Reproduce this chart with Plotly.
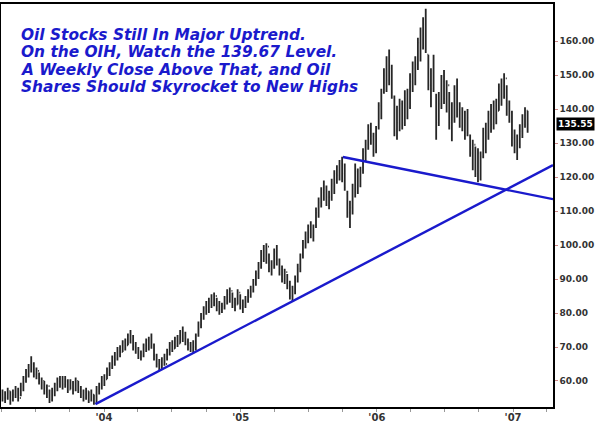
import plotly.graph_objects as go
import pandas as pd

# ---- weekly OHLC data for OIH ----
week_start = "2003-04-04"

lows = [54.0,53.5,54.5,53.0,54.0,55.0,54.0,55.5,57.0,59.5,
        61.0,62.5,61.0,60.5,59.0,57.5,56.0,55.0,53.5,54.0,
        55.5,57.0,58.0,57.5,58.0,56.5,57.5,56.0,57.0,56.5,
        55.0,54.0,54.5,53.5,54.0,53.0,53.2,56.0,57.5,58.5,
        60.5,61.5,63.5,64.5,66.0,67.0,68.5,69.0,70.5,71.0,
        69.0,68.0,66.5,66.0,67.0,68.5,69.0,69.5,66.0,64.0,
        63.0,63.5,64.5,66.0,67.5,68.5,69.5,70.0,71.0,71.5,
        70.5,69.0,68.5,68.0,69.0,73.0,75.5,78.0,79.5,80.0,
        81.5,82.0,80.5,79.5,80.0,81.0,82.5,83.0,81.5,80.5,
        82.5,81.0,80.0,81.5,83.0,84.5,86.0,88.0,90.0,93.0,
        95.0,94.5,92.0,91.0,93.0,94.0,91.0,89.0,88.5,87.0,
        84.0,83.5,85.5,89.0,92.0,96.0,99.0,100.5,102.0,101.0,
        105.0,108.0,111.0,113.0,111.5,110.5,113.0,115.0,118.0,119.0,
        118.5,116.0,108.0,105.0,109.0,114.0,115.0,117.0,121.0,124.5,
        128.0,129.5,126.0,127.0,134.0,137.0,144.5,145.0,147.0,143.0,
        132.0,131.0,133.5,134.0,135.0,137.0,140.0,145.0,147.0,151.5,
        154.0,157.5,156.5,145.5,140.5,145.0,131.0,135.0,140.0,141.5,
        139.0,134.0,130.5,136.0,137.5,134.5,133.5,131.0,132.0,126.0,
        122.0,120.0,118.5,119.0,125.5,127.0,131.0,133.0,134.0,135.5,
        139.5,141.0,143.0,138.0,136.0,129.0,127.0,125.0,128.5,131.5,134.5,133.0]

highs = [57.5,57.0,58.0,57.0,57.5,58.5,58.0,59.5,61.5,63.5,
         65.0,67.3,65.5,64.0,62.5,61.0,60.0,59.0,57.5,58.0,
         59.5,61.0,61.5,61.5,61.5,60.5,60.5,60.0,61.0,60.0,
         58.5,57.5,58.0,57.0,57.5,56.0,58.5,59.5,61.5,62.0,
         64.0,65.5,67.5,68.5,70.0,70.5,72.0,72.5,74.0,75.0,
         73.5,71.5,70.0,69.0,71.0,72.5,73.0,74.0,71.0,68.0,
         66.5,67.0,68.0,69.5,71.5,72.0,73.0,73.5,75.0,76.0,
         74.5,72.5,71.5,72.0,74.0,77.5,80.0,82.0,83.5,84.5,
         85.5,86.0,84.5,83.5,83.0,85.0,87.0,87.5,86.0,84.5,
         87.0,85.5,84.0,85.0,87.0,88.0,90.0,92.5,95.0,98.5,
         100.0,100.5,97.5,95.5,99.0,100.0,96.0,94.0,93.0,91.5,
         89.5,88.0,91.0,94.5,97.5,101.5,104.0,106.0,107.0,106.0,
         111.0,114.0,117.0,119.0,117.5,116.0,119.5,122.0,123.5,125.0,
         126.0,124.0,116.0,113.0,118.0,124.0,122.5,123.0,128.5,131.0,
         135.5,136.0,133.0,135.0,142.0,146.0,152.0,155.5,157.5,153.0,
         144.0,141.0,143.0,142.5,145.5,146.0,150.5,154.0,155.5,161.0,
         164.0,167.0,169.5,156.0,152.0,156.0,144.5,145.0,150.0,151.5,
         148.5,145.0,142.0,147.0,149.0,142.0,140.5,139.5,140.0,132.5,
         131.0,129.0,128.5,127.5,134.5,136.0,139.5,141.5,142.5,143.0,
         147.5,149.0,150.5,147.0,142.5,139.5,134.0,132.5,135.5,138.5,140.5,139.5]

opens = [56.0,55.0,55.0,57.0,54.5,56.0,57.5,55.0,58.0,60.5,
         62.0,63.5,65.0,62.0,63.0,60.0,60.0,58.0,58.5,54.5,
         56.5,59.0,60.0,60.5,59.0,60.0,57.5,59.5,57.5,60.0,
         57.5,57.0,55.0,57.0,54.5,56.0,54.0,57.0,58.0,61.0,
         60.5,63.5,64.0,67.0,66.5,69.5,68.5,71.5,70.5,73.5,
         72.0,70.0,69.5,67.0,68.0,70.5,72.0,70.0,70.5,67.5,
         65.0,64.0,66.5,65.0,68.5,71.0,69.5,72.5,71.0,74.5,
         72.5,71.5,70.5,69.0,70.0,73.5,76.5,78.5,81.5,81.0,
         83.5,83.0,85.0,82.0,81.0,82.0,84.5,85.5,86.5,83.0,
         82.5,86.0,82.0,82.0,84.0,86.0,87.0,89.0,91.5,93.5,
         97.5,96.0,99.5,93.0,94.0,98.0,95.5,93.0,90.0,92.0,
         88.0,85.0,86.5,90.0,93.0,97.0,100.5,102.0,105.5,105.0,
         106.0,109.5,112.5,115.5,117.0,114.0,114.0,118.0,121.0,120.5,
         124.0,121.0,115.0,109.5,111.0,116.5,121.5,117.5,122.0,127.5,
         129.5,133.0,132.0,128.0,134.5,141.0,145.0,150.0,148.5,152.0,
         143.5,134.0,136.0,141.5,136.0,143.0,140.5,148.0,152.0,153.0,
         159.5,158.0,165.0,156.0,147.0,146.0,143.5,136.0,141.5,148.0,
         143.0,147.0,136.0,137.5,145.5,140.0,135.0,139.0,133.0,131.5,
         127.0,129.5,121.0,127.0,126.0,133.0,132.0,138.5,135.5,141.0,
         139.5,146.5,143.5,149.0,141.5,139.0,131.5,132.0,129.0,133.5,135.5,139.5]

closes = [55.0,55.5,56.5,54.5,56.0,57.0,55.0,58.5,60.0,62.5,
          64.0,65.0,62.0,63.0,60.0,59.5,57.0,58.0,54.5,57.0,
          59.0,60.0,60.5,59.0,60.0,57.5,59.5,57.5,60.0,57.5,
          57.0,55.0,57.0,54.5,56.0,54.0,57.5,58.5,61.0,59.5,
          63.5,64.0,67.0,66.5,69.5,68.5,71.5,70.5,73.5,72.0,
          70.0,69.5,67.0,68.0,70.5,72.0,70.0,73.0,67.5,65.0,
          64.0,66.5,65.0,68.5,71.0,69.5,72.5,71.0,74.5,72.5,
          71.5,70.5,69.0,70.0,73.5,76.5,78.5,81.5,81.0,83.5,
          83.0,85.0,82.0,81.0,82.0,84.5,85.5,86.5,83.0,82.5,
          86.0,82.0,82.0,84.0,86.0,87.0,89.0,91.5,93.5,97.5,
          96.0,99.5,93.0,94.0,98.0,95.5,93.0,90.0,92.0,88.0,
          85.0,86.5,90.0,93.0,97.0,100.5,102.0,105.5,105.0,102.5,
          109.5,112.5,115.5,117.0,114.0,114.0,118.0,121.0,120.5,124.0,
          121.0,117.0,109.5,111.0,116.5,121.5,117.5,122.0,127.5,129.5,
          133.0,132.0,128.0,134.5,141.0,145.0,150.0,148.5,152.0,145.0,
          134.0,136.0,141.5,136.0,143.0,140.5,148.0,152.0,153.0,159.5,
          158.0,165.0,157.5,147.0,146.0,152.0,136.0,141.5,148.0,143.0,
          147.0,136.0,137.5,145.5,140.0,135.0,139.0,133.0,137.5,127.0,
          129.5,121.0,127.0,126.0,133.0,132.0,138.5,135.5,141.0,139.5,
          146.5,143.5,149.0,141.5,139.0,131.5,132.0,129.0,133.5,135.5,139.5,135.55]

# trend lines drawn on the chart
uptrend_dates = ["2003-12-09", "2007-04-18"]
uptrend_prices = [53.2, 123.5]
downtrend_dates = ["2005-10-02", "2007-04-18"]
downtrend_prices = [125.9, 113.5]

# axis ticks
year_tick_dates = ["2004-01-01", "2005-01-01", "2006-01-01", "2007-01-01"]
year_tick_labels = ["'04", "'05", "'06", "'07"]
quarter_tick_dates = pd.date_range("2003-04-01", "2007-04-01", freq="QS").strftime("%Y-%m-%d").tolist()
y_tick_values = [60, 70, 80, 90, 100, 110, 120, 130, 140, 150, 160]

last_price = 135.55

title_lines = [
    "Oil Stocks Still In Major Uptrend.",
    "On the OIH, Watch the 139.67 Level.",
    "A Weekly Close Above That, and Oil",
    "Shares Should Skyrocket to New Highs",
]

dates = pd.date_range(week_start, periods=len(closes), freq="7D")

BLUE = "#1a1acc"
BAR = "#262626"

fig = go.Figure()
fig.add_trace(go.Ohlc(
    x=dates, open=opens, high=highs, low=lows, close=closes,
    increasing=dict(line=dict(color=BAR, width=1.8)),
    decreasing=dict(line=dict(color=BAR, width=1.8)),
    tickwidth=0.35, showlegend=False, hoverinfo="skip",
))
fig.add_trace(go.Scatter(x=uptrend_dates, y=uptrend_prices, mode="lines",
                         line=dict(color=BLUE, width=2.4), showlegend=False, hoverinfo="skip"))
fig.add_trace(go.Scatter(x=downtrend_dates, y=downtrend_prices, mode="lines",
                         line=dict(color=BLUE, width=2.4), showlegend=False, hoverinfo="skip"))

# plot-area pixel helpers for layout placement
PLOT_TOP, PLOT_BOTTOM, PLOT_LEFT, PLOT_RIGHT = 4, 407, 1, 553
def py(ypx):
    return 1 - (ypx - PLOT_TOP) / (PLOT_BOTTOM - PLOT_TOP)
def px(xpx):
    return (xpx - PLOT_LEFT) / (PLOT_RIGHT - PLOT_LEFT)

annotations = []
for line, ymid in zip(title_lines, [34.5, 52, 69.5, 87]):
    annotations.append(dict(
        text=line, xref="paper", yref="paper", x=px(19), y=py(ymid),
        xanchor="left", yanchor="middle", showarrow=False,
        font=dict(family="DejaVu Sans", size=15.4, color=BLUE, weight="bold", style="italic"),
    ))
annotations.append(dict(
    text=f"{last_price:.2f}", xref="paper", yref="y", x=1, y=last_price,
    xanchor="left", yanchor="middle", xshift=3, showarrow=False,
    bgcolor="black", borderpad=1,
    font=dict(family="DejaVu Sans", size=9, color="white", weight="bold"),
))

quarter_labels = []
for d in quarter_tick_dates:
    if d in year_tick_dates:
        quarter_labels.append(year_tick_labels[year_tick_dates.index(d)])
    else:
        quarter_labels.append("")

fig.update_layout(
    width=600, height=422,
    margin=dict(l=PLOT_LEFT, r=600 - PLOT_RIGHT, t=PLOT_TOP, b=422 - PLOT_BOTTOM, pad=0),
    paper_bgcolor="white", plot_bgcolor="white",
    showlegend=False,
    annotations=annotations,
    xaxis=dict(
        type="date", range=["2003-03-31", "2007-04-18"],
        rangeslider=dict(visible=False),
        tickvals=quarter_tick_dates, ticktext=quarter_labels,
        ticks="outside", ticklen=3, tickcolor="#999999", tickwidth=1,
        ticklabelstandoff=-3,
        showgrid=False, zeroline=False,
        showline=True, linecolor="black", linewidth=1.5, mirror=True,
        tickfont=dict(family="DejaVu Sans", size=10, color="#333333", weight="bold"),
        automargin=False,
    ),
    yaxis=dict(
        side="right", range=[52.35, 170.9],
        tickvals=y_tick_values, tickformat=".2f",
        ticks="outside", ticklen=3, tickcolor="#cc8888", tickwidth=1,
        showgrid=False, zeroline=False,
        showline=True, linecolor="black", linewidth=1.5, mirror=True,
        tickfont=dict(family="DejaVu Sans", size=9, color="#333333", weight="bold"),
        automargin=False,
    ),
)

fig.write_html("out.html", config={"displayModeBar": False},
               post_script="document.body.style.margin='0';")
